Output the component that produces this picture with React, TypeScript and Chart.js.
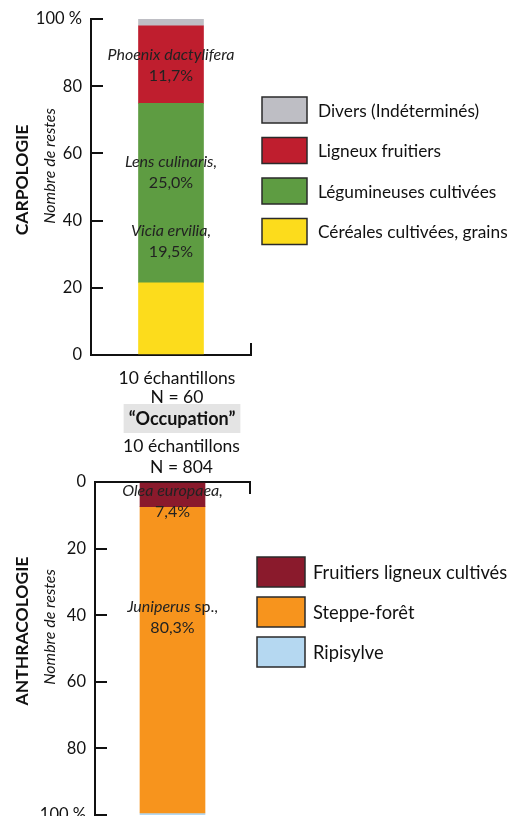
import React, { useEffect, useRef } from 'react';
import { Chart, registerables } from 'chart.js';

Chart.register(...registerables);

const FONT = 'Lato, "Open Sans", sans-serif';

// ---------- CARPOLOGIE (top) ----------
const carpoCategories = [['10 échantillons', 'N = 60']];
const carpoSeriesNames = ['Céréales cultivées, grains', 'Légumineuses cultivées', 'Ligneux fruitiers', 'Divers (Indéterminés)'];
const carpoValues = [21.5, 53.4, 23.1, 2.0];
const carpoColors = ['#FCDC1C', '#5E9C42', '#BF1E2E', '#BEBEC4'];
const carpoTickValues = [0, 20, 40, 60, 80, 100];
const carpoTickLabels = ['0', '20', '40', '60', '80', '100 %'];
const carpoNoteNames = [
  [{ t: 'Phoenix dactylifera', i: true }],
  [{ t: 'Lens culinaris,', i: true }],
  [{ t: 'Vicia ervilia,', i: true }],
];
const carpoNotePercents = ['11,7%', '25,0%', '19,5%'];
const carpoNoteAnchors = [86.2, 54.5, 33.9];
const carpoLegendOrder = [3, 2, 1, 0];

// ---------- ANTHRACOLOGIE (bottom) ----------
const anthraCategories = [['10 échantillons', 'N = 804']];
const anthraSeriesNames = ['Fruitiers ligneux cultivés', 'Steppe-forêt', 'Ripisylve'];
const anthraValues = [7.4, 92.0, 0.6];
const anthraColors = ['#8A1A2C', '#F7941D', '#B5D8F1'];
const anthraTickValues = [0, 20, 40, 60, 80, 100];
const anthraTickLabels = ['0', '20', '40', '60', '80', '100 %'];
const anthraNoteNames = [
  [{ t: 'Olea europaea,', i: true }],
  [{ t: 'Juniperus', i: true }, { t: ' sp.,', i: false }],
];
const anthraNotePercents = ['7,4%', '80,3%'];
const anthraNoteAnchors = [5.9, 40.7];
const anthraLegendOrder = [0, 1, 2];

type Part = { t: string; i: boolean };

function drawParts(ctx: CanvasRenderingContext2D, parts: Part[], cx: number, cy: number, size: number) {
  const fonts = parts.map((p) => `${p.i ? 'italic ' : ''}${size}px ${FONT}`);
  let total = 0;
  const widths = parts.map((p, k) => {
    ctx.font = fonts[k];
    const w = ctx.measureText(p.t).width;
    total += w;
    return w;
  });
  let x = cx - total / 2;
  ctx.textAlign = 'left';
  ctx.textBaseline = 'middle';
  parts.forEach((p, k) => {
    ctx.font = fonts[k];
    ctx.fillText(p.t, x, cy);
    x += widths[k];
  });
}

const decorPlugin = {
  id: 'decor',
  afterDraw(chart: any, _args: any, opts: any) {
    const ctx: CanvasRenderingContext2D = chart.ctx;
    const area = chart.chartArea;
    ctx.save();
    ctx.fillStyle = '#111';

    // rotated side titles
    (opts.sideTitles || []).forEach((s: any) => {
      ctx.save();
      ctx.translate(s.x, s.y);
      ctx.rotate(-Math.PI / 2);
      ctx.font = s.font;
      ctx.fillStyle = '#111';
      ctx.textAlign = 'center';
      ctx.textBaseline = 'middle';
      ctx.fillText(s.text, 0, 0);
      ctx.restore();
    });

    // notes inside the bar
    const meta = chart.getDatasetMeta(0);
    const barX = meta.data[0].x;
    const yScale = chart.scales.y;
    ctx.fillStyle = '#222';
    (opts.noteNames || []).forEach((parts: Part[], k: number) => {
      const cy = yScale.getPixelForValue(opts.noteAnchors[k]);
      drawParts(ctx, parts, barX, cy - opts.noteGap / 2, opts.noteSize);
      drawParts(ctx, [{ t: opts.notePercents[k], i: false }], barX, cy + opts.noteGap / 2, opts.noteSize);
    });

    // legend
    const lg = opts.legend;
    if (lg) {
      lg.order.forEach((dsIndex: number, k: number) => {
        const ds = chart.data.datasets[dsIndex];
        const bx = area.right + lg.dx;
        const by = lg.y0 + k * lg.step;
        ctx.fillStyle = ds.backgroundColor;
        ctx.fillRect(bx, by, lg.w, lg.h);
        ctx.strokeStyle = '#2a2a2a';
        ctx.lineWidth = 1.5;
        ctx.strokeRect(bx, by, lg.w, lg.h);
        ctx.fillStyle = '#111';
        ctx.font = `${lg.size}px ${FONT}`;
        ctx.textAlign = 'left';
        ctx.textBaseline = 'middle';
        ctx.fillText(ds.label, bx + lg.w + lg.gap, by + lg.h / 2 + 1);
      });
    }

    // header with grey background
    const hd = opts.header;
    if (hd) {
      ctx.font = `bold ${hd.size}px ${FONT}`;
      const w = ctx.measureText(hd.text).width;
      ctx.fillStyle = '#E4E4E4';
      ctx.fillRect(hd.x - w / 2 - hd.pad, hd.y - hd.h / 2, w + 2 * hd.pad, hd.h);
      ctx.fillStyle = '#111';
      ctx.textAlign = 'center';
      ctx.textBaseline = 'middle';
      ctx.fillText(hd.text, hd.x, hd.y + 1);
    }
    ctx.restore();
  },
};

function axisGrid(offset: boolean) {
  return {
    display: true,
    offset,
    drawOnChartArea: false,
    drawTicks: true,
    tickLength: -12,
    color: '#111',
    lineWidth: 2,
  };
}

function fixYAxis(width: number) {
  return (s: any) => {
    s.width = width;
    s.paddingTop = 0;
    s.paddingBottom = 0;
  };
}

function makeTopChart(canvas: HTMLCanvasElement) {
  return new Chart(canvas, {
    type: 'bar',
    data: {
      labels: carpoCategories as any,
      datasets: carpoSeriesNames.map((name, k) => ({
        label: name,
        data: [carpoValues[k]],
        backgroundColor: carpoColors[k],
        borderWidth: 0,
        barThickness: 65,
      })),
    },
    plugins: [decorPlugin],
    options: {
      responsive: false,
      animation: false,
      layout: { padding: { top: 19, right: 259, left: 0, bottom: 0 } },
      plugins: {
        legend: { display: false },
        tooltip: { enabled: false },
        decor: {
          sideTitles: [
            { text: 'CARPOLOGIE', x: 22, y: 180, font: `bold 17.5px ${FONT}` },
            { text: 'Nombre de restes', x: 50, y: 166, font: `italic 16px ${FONT}` },
          ],
          noteNames: carpoNoteNames,
          notePercents: carpoNotePercents,
          noteAnchors: carpoNoteAnchors,
          noteGap: 21,
          noteSize: 16,
          legend: { order: carpoLegendOrder, dx: 11, y0: 97, step: 40.5, w: 45, h: 26, gap: 11, size: 17.3 },
        },
      } as any,
      scales: {
        x: {
          stacked: true,
          offset: true,
          afterFit: (s: any) => { s.height = 55; },
          grid: axisGrid(true),
          border: { display: true, color: '#111', width: 2 },
          ticks: {
            color: '#111',
            font: { family: FONT, size: 17.5, lineHeight: 1.12 },
            padding: 25.2,
            labelOffset: 6,
            maxRotation: 0,
            autoSkip: false,
          },
        },
        y: {
          stacked: true,
          min: 0,
          max: 100,
          afterFit: fixYAxis(91),
          grid: axisGrid(false),
          border: { display: true, color: '#111', width: 2 },
          ticks: {
            stepSize: 20,
            color: '#111',
            font: { family: FONT, size: 16.5 },
            padding: 21,
            callback: (v: any) => carpoTickLabels[carpoTickValues.indexOf(v)],
          },
        },
      },
    } as any,
  });
}

function makeBottomChart(canvas: HTMLCanvasElement) {
  return new Chart(canvas, {
    type: 'bar',
    data: {
      labels: anthraCategories as any,
      datasets: anthraSeriesNames.map((name, k) => ({
        label: name,
        data: [anthraValues[k]],
        backgroundColor: anthraColors[k],
        borderWidth: 0,
        barThickness: 65,
      })),
    },
    plugins: [decorPlugin],
    options: {
      responsive: false,
      animation: false,
      layout: { padding: { top: 32, right: 260, left: 0, bottom: 15 } },
      plugins: {
        legend: { display: false },
        tooltip: { enabled: false },
        decor: {
          sideTitles: [
            { text: 'ANTHRACOLOGIE', x: 22, y: 231, font: `bold 17.5px ${FONT}` },
            { text: 'Nombre de restes', x: 50, y: 227, font: `italic 16px ${FONT}` },
          ],
          noteNames: anthraNoteNames,
          notePercents: anthraNotePercents,
          noteAnchors: anthraNoteAnchors,
          noteGap: 21,
          noteSize: 16,
          legend: { order: anthraLegendOrder, dx: 7, y0: 157, step: 40, w: 48, h: 30, gap: 8, size: 18.3 },
          header: { text: '\u201COccupation\u201D', x: 182, y: 18.5, h: 29, pad: 5, size: 18 },
        },
      } as any,
      scales: {
        x: {
          stacked: true,
          offset: true,
          position: 'top',
          afterFit: (s: any) => { s.height = 50; },
          grid: axisGrid(true),
          border: { display: true, color: '#111', width: 2 },
          ticks: {
            color: '#111',
            font: { family: FONT, size: 17.5, lineHeight: 1.2 },
            padding: 16.5,
            labelOffset: 9,
            maxRotation: 0,
            autoSkip: false,
          },
        },
        y: {
          stacked: true,
          reverse: true,
          min: 0,
          max: 100,
          afterFit: fixYAxis(95),
          grid: axisGrid(false),
          border: { display: true, color: '#111', width: 2 },
          ticks: {
            stepSize: 20,
            color: '#111',
            font: { family: FONT, size: 16.5 },
            padding: 21,
            callback: (v: any) => anthraTickLabels[anthraTickValues.indexOf(v)],
          },
        },
      },
    } as any,
  });
}

export default function App() {
  const topRef = useRef<HTMLCanvasElement | null>(null);
  const botRef = useRef<HTMLCanvasElement | null>(null);

  useEffect(() => {
    const c1 = makeTopChart(topRef.current as HTMLCanvasElement);
    const c2 = makeBottomChart(botRef.current as HTMLCanvasElement);
    return () => {
      c1.destroy();
      c2.destroy();
    };
  }, []);

  return (
    <div style={{ position: 'absolute', left: 0, top: 0, width: 510, height: 816, overflow: 'hidden', background: '#fff' }}>
      <canvas ref={topRef} width={510} height={410} style={{ position: 'absolute', left: 0, top: 0 }} />
      <canvas ref={botRef} width={510} height={430} style={{ position: 'absolute', left: 0, top: 400 }} />
    </div>
  );
}
